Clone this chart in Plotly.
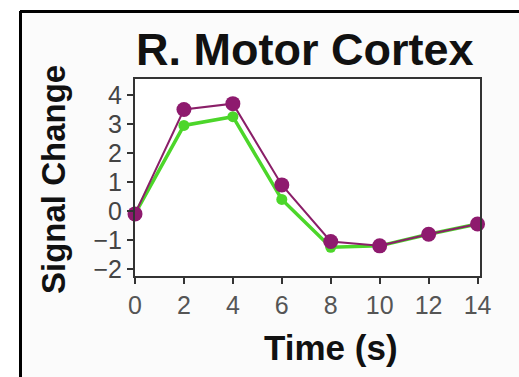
import plotly.graph_objects as go

time_s = [0, 2, 4, 6, 8, 10, 12, 14]
green_vals = [-0.1, 2.95, 3.25, 0.4, -1.25, -1.2, -0.8, -0.45]
purple_vals = [-0.1, 3.5, 3.7, 0.9, -1.05, -1.2, -0.8, -0.45]
x_ticks = [0, 2, 4, 6, 8, 10, 12, 14]
y_ticks = [-2, -1, 0, 1, 2, 3, 4]

W, H = 519, 377
L, R, T, B = 135, 480, 79, 276

fig = go.Figure()
fig.add_trace(go.Scatter(x=time_s, y=green_vals, mode="lines+markers",
                         line=dict(color="#4cd62a", width=3.5),
                         marker=dict(color="#4cd62a", size=11),
                         cliponaxis=False, showlegend=False))
fig.add_trace(go.Scatter(x=time_s, y=purple_vals, mode="lines+markers",
                         line=dict(color="#8a1f68", width=2),
                         marker=dict(color="#8e1a6e", size=15),
                         cliponaxis=False, showlegend=False))

def px(xp):
    return (xp - L) / (R - L)

def py(yp):
    return (B - yp) / (B - T)

fig.update_layout(
    width=W, height=H,
    margin=dict(l=L, r=W - R, t=T, b=H - B),
    paper_bgcolor="#fbfbfb",
    plot_bgcolor="#ffffff",
    font=dict(family="Liberation Sans, Arial, sans-serif", color="#111"),
    xaxis=dict(range=[0, 14.1], tickvals=x_ticks, ticks="outside", ticklen=6,
               tickwidth=2, tickcolor="#333", showgrid=False, zeroline=False,
               showline=True, linecolor="#333", linewidth=2, mirror=True,
               tickfont=dict(size=25, color="#555")),
    yaxis=dict(range=[-2.24, 4.55], tickvals=y_ticks, ticks="outside", ticklen=6,
               tickwidth=2, tickcolor="#333", showgrid=False, zeroline=False,
               showline=True, linecolor="#333", linewidth=2, mirror=True,
               tickfont=dict(size=25, color="#444")),
    annotations=[
        dict(text="<b>R. Motor Cortex</b>", xref="paper", yref="paper",
             x=px(305), y=py(50), xanchor="center", yanchor="middle",
             showarrow=False, font=dict(size=45, color="#111")),
        dict(text="<b>Time (s)</b>", xref="paper", yref="paper",
             x=px(331), y=py(347), xanchor="center", yanchor="middle",
             showarrow=False, font=dict(size=35, color="#111")),
        dict(text="<b>Signal Change</b>", xref="paper", yref="paper",
             x=px(53), y=py(180), xanchor="center", yanchor="middle",
             textangle=-90, showarrow=False, font=dict(size=33, color="#111")),
    ],
    shapes=[
        dict(type="rect", xref="paper", yref="paper", x0=px(0), x1=px(21),
             y0=py(377), y1=py(0), fillcolor="#ffffff", line=dict(width=0), layer="below"),
        dict(type="rect", xref="paper", yref="paper", x0=px(0), x1=px(519),
             y0=py(11), y1=py(0), fillcolor="#ffffff", line=dict(width=0), layer="below"),
        dict(type="line", xref="paper", yref="paper", x0=px(20), x1=px(519),
             y0=py(11.5), y1=py(11.5), line=dict(color="#000", width=3)),
        dict(type="line", xref="paper", yref="paper", x0=px(20.5), x1=px(20.5),
             y0=py(11), y1=py(377), line=dict(color="#000", width=3)),
    ],
)

fig.write_html("out.html")
